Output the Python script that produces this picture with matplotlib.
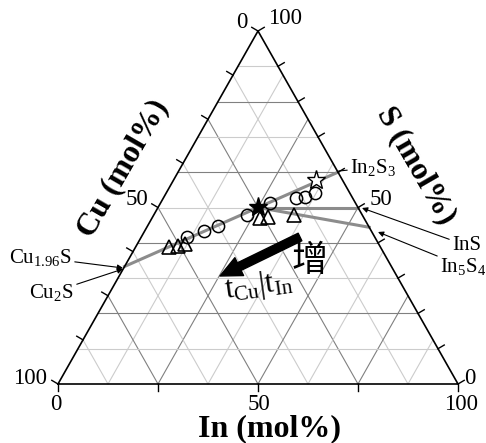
import numpy as np
import matplotlib
matplotlib.use('Agg')
import matplotlib.pyplot as plt
from matplotlib.patches import FancyArrowPatch

plt.rcParams['font.family'] = ['Liberation Serif', 'Noto Sans CJK SC']
plt.rcParams['mathtext.fontset'] = 'custom'
plt.rcParams['mathtext.rm'] = 'Liberation Serif'
plt.rcParams['mathtext.it'] = 'Liberation Serif:italic'
plt.rcParams['mathtext.bf'] = 'Liberation Serif:bold'

# compositions in mol% (In, S); Cu = 100 - In - S
tri_in = [8.4, 10.4, 11.9, 27.0, 28.8, 35.1]
tri_s = [38.8, 39.2, 39.8, 47.0, 47.3, 47.9]
circ_in = [11.3, 14.9, 17.7, 23.2, 27.4, 33.2, 35.2, 37.2]
circ_s = [41.7, 43.3, 44.8, 47.9, 51.2, 52.6, 53.1, 54.1]
open_star_in, open_star_s = [35.6], [57.8]
full_star_in, full_star_s = [25.0], [50.1]

# phase tie lines (In, S) start -> end
tie_start_in = [0.0, 25.0, 25.0]
tie_start_s = [33.3, 50.0, 50.0]
tie_end_in = [40.0, 50.0, 55.6]
tie_end_s = [60.0, 50.0, 44.4]

H = np.sqrt(3) / 2


def tern(in_pct, s_pct):
    a = np.asarray(in_pct, dtype=float) / 100
    s = np.asarray(s_pct, dtype=float) / 100
    return a + s / 2, s * H


def px(x, y):
    # pixel spot in the 486x443 picture -> axes data units
    return (x - 58) / 400, (384 - y) * H / 353


fig = plt.figure(figsize=(4.86, 4.43), dpi=100)
ax = fig.add_axes([0, 0, 1, 1])
ax.set_xlim(-58 / 400, 428 / 400)
ax.set_ylim(-59 * H / 353, 384 * H / 353)
ax.axis('off')

dark, light = '#808080', '#cccccc'

# grid: In and Cu lines every 12.5 %, S lines every 10 %
for k in range(1, 8):
    f = k / 8
    col = dark if k % 2 == 0 else light
    x0, y0 = tern(f * 100, 0)
    x1, y1 = tern(f * 100, (1 - f) * 100)
    ax.plot([x0, x1], [y0, y1], color=col, lw=0.8, zorder=1)
    x0, y0 = tern((1 - f) * 100, 0)
    x1, y1 = tern(0, (1 - f) * 100)
    ax.plot([x0, x1], [y0, y1], color=col, lw=0.8, zorder=1)
for k in range(1, 10):
    s = k / 10
    col = dark if k % 2 == 0 else light
    ax.plot([s / 2, 1 - s / 2], [s * H, s * H], color=col, lw=0.8, zorder=1)

# frame
ax.plot([0, 1, 0.5, 0], [0, 0, H, 0], color='black', lw=1.2, zorder=3)

# ticks
tl = 0.018
nl = np.array([-0.866, 0.5])
nr = np.array([0.866, 0.5])
for cu in np.arange(0, 101, 12.5):
    x, y = tern(0, 100 - cu)
    ax.plot([x, x + tl * nl[0]], [y, y + tl * nl[1]], color='black', lw=1.0, zorder=3)
for s in range(0, 101, 10):
    x, y = tern(100 - s, s)
    ax.plot([x, x + tl * nr[0]], [y, y + tl * nr[1]], color='black', lw=1.0, zorder=3)
for a in [0, 25, 50, 75, 100]:
    x, y = tern(a, 0)
    ax.plot([x, x], [y, y - tl], color='black', lw=1.0, zorder=3)

# tie lines
for i in range(len(tie_start_in)):
    x0, y0 = tern(tie_start_in[i], tie_start_s[i])
    x1, y1 = tern(tie_end_in[i], tie_end_s[i])
    ax.plot([x0, x1], [y0, y1], color='#8c8c8c', lw=2.2, zorder=2)

# data points
x, y = tern(tri_in, tri_s)
ax.plot(x, y, '^', ms=10.5, mfc='none', mec='black', mew=1.2, zorder=4)
x, y = tern(circ_in, circ_s)
ax.plot(x, y, 'o', ms=8.8, mfc='none', mec='black', mew=1.1, zorder=4)
x, y = tern(open_star_in, open_star_s)
ax.plot(x, y, '*', ms=14, mfc='white', mec='black', mew=1.0, zorder=4)
x, y = tern(full_star_in, full_star_s)
ax.plot(x, y, '*', ms=14, mfc='black', mec='black', mew=1.0, zorder=5)

# vertex / tick labels
fs = 16.5
for txt, (xp, yp) in [('0', (242, 22)), ('100', (285, 18)), ('50', (137, 199)),
                      ('100', (30, 379)), ('0', (56, 405)), ('50', (259, 405)),
                      ('100', (461, 405)), ('0', (470, 378)), ('50', (381, 199))]:
    ax.text(*px(xp, yp), txt, fontsize=fs, ha='center', va='center')

# axis titles
ax.text(*px(123, 168), 'Cu (mol%)', fontsize=23, fontweight='bold', rotation=60,
        ha='center', va='center', rotation_mode='anchor')
ax.text(*px(416, 165), 'S (mol%)', fontsize=23, fontweight='bold', rotation=-60,
        ha='center', va='center', rotation_mode='anchor')
ax.text(*px(270, 429), 'In (mol%)', fontsize=23, fontweight='bold',
        ha='center', va='center')

# phase labels with pointers
arr = dict(arrowstyle='-|>', lw=0.8, color='black', mutation_scale=8,
           shrinkA=0, shrinkB=0)
lfs = 15
ax.annotate('Cu$_{1.96}$S', xy=px(123, 268), xytext=px(72, 263), fontsize=lfs,
            ha='right', va='baseline', arrowprops=arr)
ax.annotate('Cu$_2$S', xy=px(123, 269), xytext=px(74, 298), fontsize=lfs,
            ha='right', va='baseline', arrowprops=arr)
ax.annotate('In$_2$S$_3$', xy=px(339, 171), xytext=px(350, 173), fontsize=lfs,
            ha='left', va='baseline',
            arrowprops=dict(arrowstyle='-', lw=0.8, color='black', shrinkA=0, shrinkB=0))
ax.annotate('InS', xy=px(362, 208), xytext=px(452, 250), fontsize=lfs,
            ha='left', va='baseline', arrowprops=arr)
ax.annotate('In$_5$S$_4$', xy=px(378, 232), xytext=px(440, 272), fontsize=lfs,
            ha='left', va='baseline', arrowprops=arr)

# trend arrow
big = FancyArrowPatch(px(300, 237), px(220, 276),
                      arrowstyle='simple,head_length=1.4,head_width=1.3,tail_width=0.55',
                      mutation_scale=11, color='black', shrinkA=0, shrinkB=0, zorder=6)
ax.add_patch(big)
ax.text(*px(310, 261), '增', fontsize=26, family=['Noto Sans CJK SC'],
        ha='center', va='center')
ax.text(*px(226, 298), r'$\mathrm{t_{Cu}|t_{In}}$', fontsize=22, rotation=8,
        ha='left', va='baseline', rotation_mode='anchor')

fig.savefig('out.png', dpi=100)
